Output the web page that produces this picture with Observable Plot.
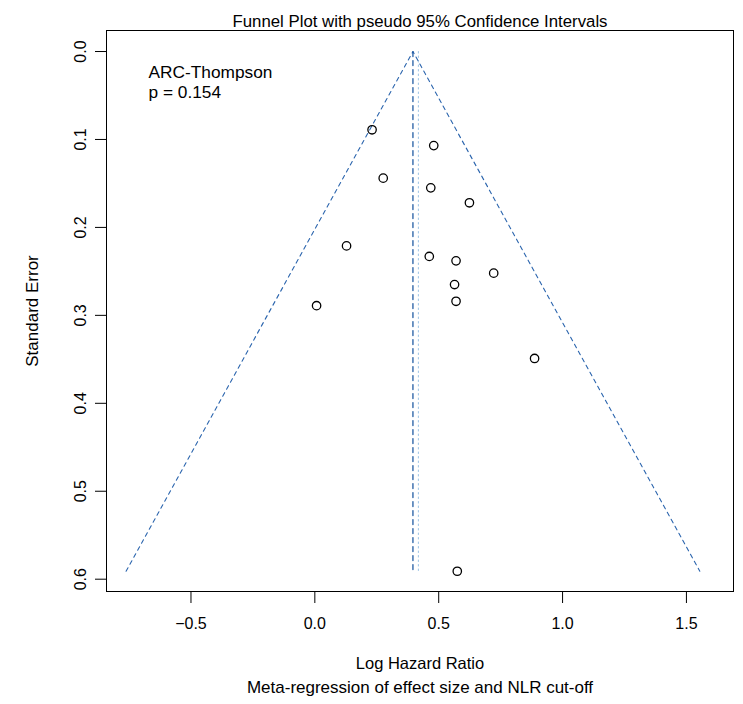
<!DOCTYPE html>
<html><head><meta charset="utf-8">
<script src="https://cdn.jsdelivr.net/npm/d3@7"></script>
<script src="https://cdn.jsdelivr.net/npm/@observablehq/plot@0.6"></script>
<style>body{margin:0;background:#fff} svg{display:block}</style>
</head><body><div id="chart"></div>
<script>
// Study effect sizes (log hazard ratio) and standard errors
const logHR  = [0.231, 0.480, 0.276, 0.468, 0.624, 0.128, 0.462, 0.570, 0.722, 0.564, 0.570, 0.007, 0.887, 0.575];
const stdErr = [0.089, 0.107, 0.144, 0.155, 0.172, 0.221, 0.233, 0.238, 0.252, 0.265, 0.284, 0.289, 0.349, 0.591];

// Pooled estimates
const randomEstimate = 0.396;
const fixedEstimate = 0.418;
const seMax = 0.591;

// Funnel (pseudo 95% CI) outline
const funnelX = [-0.762, 0.396, 1.554];
const funnelY = [0.591, 0.0, 0.591];

// Ticks
const xTicks = [-0.5, 0.0, 0.5, 1.0, 1.5];
const yTicks = [0.0, 0.1, 0.2, 0.3, 0.4, 0.5, 0.6];

// Texts
const titleText = "Funnel Plot with pseudo 95% Confidence Intervals";
const xLabel = "Log Hazard Ratio";
const subText = "Meta-regression of effect size and NLR cut-off";
const yLabel = "Standard Error";
const annot = "ARC-Thompson\np = 0.154";

const studies = logHR.map((v, i) => ({x: v, y: stdErr[i]}));
const funnel = funnelX.map((v, i) => ({x: v, y: funnelY[i]}));
const centerLine = [{x: randomEstimate, y: 0}, {x: randomEstimate, y: seMax}];
const fixedLine = [{x: fixedEstimate, y: 0}, {x: fixedEstimate, y: seMax}];

const fmt = d3.format(".1f");

const chart = Plot.plot({
  width: 743, height: 704,
  marginLeft: 106, marginRight: 10, marginTop: 30, marginBottom: 113,
  style: {fontFamily: "'Liberation Sans', Arial, sans-serif", fontSize: "16px", background: "white", color: "black"},
  x: {domain: [-0.841, 1.690]},
  y: {domain: [-0.0239, 0.614], reverse: true},
  marks: [
    Plot.line(fixedLine, {x: "x", y: "y", stroke: "#9cc3e4", strokeWidth: 1, strokeDasharray: "1.5,3"}),
    Plot.line(funnel, {x: "x", y: "y", stroke: "#2a64ad", strokeWidth: 1.1, strokeDasharray: "4,4"}),
    Plot.line(centerLine, {x: "x", y: "y", stroke: "#1a56a0", strokeWidth: 1.25, strokeDasharray: "5,4"}),
    Plot.dot(studies, {x: "x", y: "y", r: 4.2, stroke: "black", strokeWidth: 1.3, fill: "none"}),
    Plot.frame({stroke: "black", strokeWidth: 1}),
    Plot.axisX({ticks: xTicks, tickSize: 12, tickPadding: 14, tickFormat: fmt, label: null, fontSize: 16}),
    Plot.axisY({ticks: yTicks, tickSize: 11, tickRotate: -90, tickPadding: 10, tickFormat: fmt, label: null, fontSize: 16}),
    Plot.text([titleText], {frameAnchor: "top", dy: -15, fontSize: 16.8, fill: "black"}),
    Plot.text([xLabel], {frameAnchor: "bottom", dy: 77, fontSize: 16.5, fill: "black"}),
    Plot.text([subText], {frameAnchor: "bottom", dy: 101.5, fontSize: 17, fill: "black"}),
    Plot.text([yLabel], {frameAnchor: "left", dx: -74, rotate: -90, textAnchor: "middle", fontSize: 17, fill: "black"}),
    Plot.text([annot], {frameAnchor: "top-left", dx: 42, dy: 33, textAnchor: "start", lineAnchor: "top", lineHeight: 1.15, fontSize: 17.3, fill: "black"})
  ]
});
document.getElementById("chart").appendChild(chart);
</script>
</body></html>
